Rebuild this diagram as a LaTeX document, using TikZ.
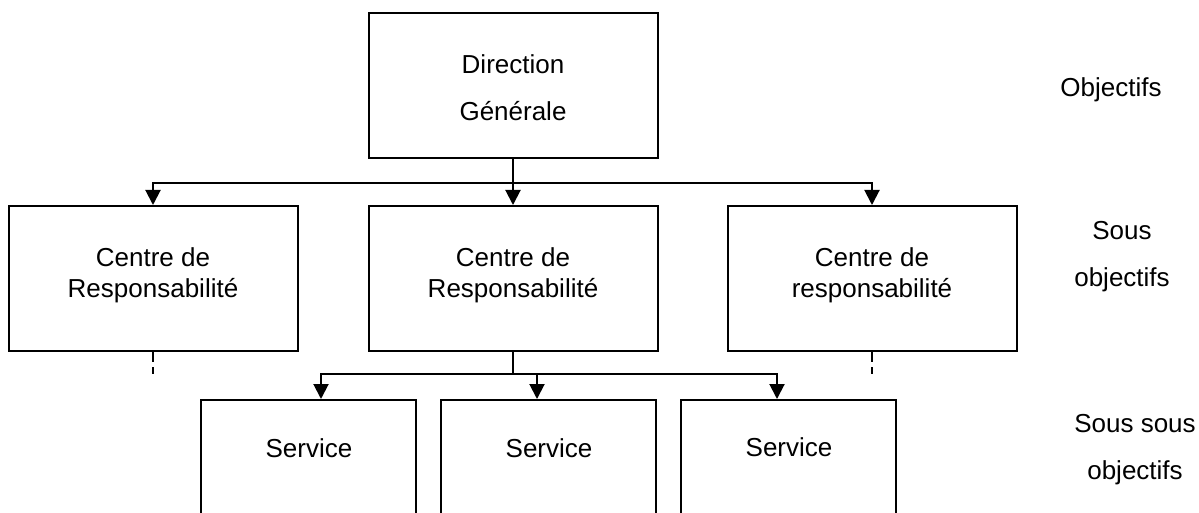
\documentclass[tikz,border=0pt]{standalone}
\usepackage{fontspec}
\setmainfont{Liberation Sans}
\usetikzlibrary{arrows.meta}
\begin{document}
\begin{tikzpicture}[x=1pt,y=-1pt,
  box/.style={draw=black,line width=2pt,minimum width=289pt,minimum height=145pt,inner sep=0pt},
  sbox/.style={draw=black,line width=2pt,minimum width=215pt,minimum height=170pt,anchor=north,inner sep=0pt},
  txt/.style={align=center,inner sep=0pt,font=\fontsize{26}{31}\selectfont},
  wide/.style={txt,font=\fontsize{26}{47}\selectfont},
  conn/.style={line width=2pt},
  arr/.style={conn,-{Triangle[width=15pt,length=15pt]}},
  stub/.style={line width=2pt,dash pattern=on 10pt off 5pt}]
\clip (0,0) rectangle (1199,513);
% boxes
\node[box] (dg) at (513,86) {};
\node[box] (cr1) at (153,278.5) {};
\node[box] (cr2) at (513,278.5) {};
\node[box] (cr3) at (872,278.5) {};
\node[sbox] (s1) at (308.5,399) {};
\node[sbox] (s2) at (548.5,399) {};
\node[sbox] (s3) at (788.5,399) {};
% texts in boxes
\node[wide] (dgt) at (513,88) {Direction\\Générale};
\node[txt] (cr1t) at (153,275) {Centre de\\Responsabilité};
\node[txt] (cr2t) at (513,275) {Centre de\\Responsabilité};
\node[txt] (cr3t) at (872,275) {Centre de\\responsabilité};
\node[txt,anchor=base] (s1t) at (309,457) {Service};
\node[txt,anchor=base] (s2t) at (549,457) {Service};
\node[txt,anchor=base] (s3t) at (789,456) {Service};
% right labels
\node[txt,anchor=base] (l1) at (1111,97) {Objectifs};
\node[wide] (l2) at (1122,257) {Sous\\objectifs};
\node[wide] (l3) at (1135,450) {Sous sous\\objectifs};
% connectors
\coordinate (j1) at (513,183);
\draw[conn] (dg.south) -- (j1);
\draw[arr] (j1) -| (cr1.north);
\draw[arr] (j1) -- (cr2.north);
\draw[arr] (j1) -| (cr3.north);
\coordinate (j2) at (513,374);
\draw[conn] (cr2.south) -- (j2);
\draw[arr] (j2) -| ([xshift=12.5pt]s1.north);
\draw[arr] (j2) -| ([xshift=-11.5pt]s2.north);
\draw[arr] (j2) -| ([xshift=-11.5pt]s3.north);
\draw[stub] (cr1.south) -- ++(0,22);
\draw[stub] (cr3.south) -- ++(0,22);
\end{tikzpicture}
\end{document}
